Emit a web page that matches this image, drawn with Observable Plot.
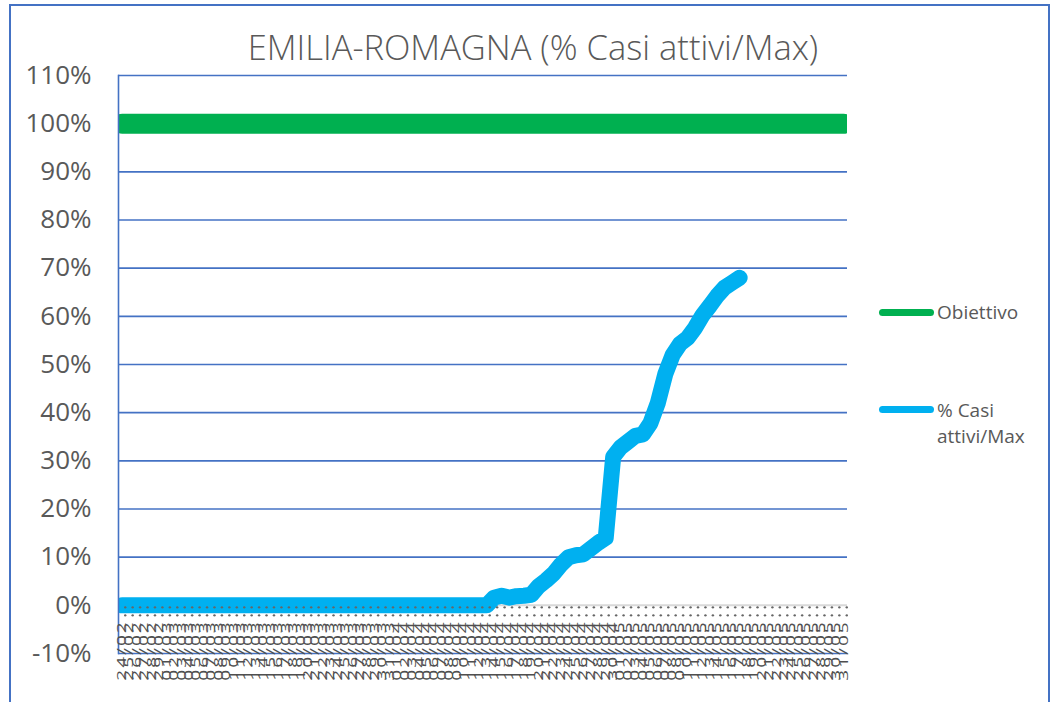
<!DOCTYPE html>
<html><head><meta charset="utf-8">
<script src="https://cdn.jsdelivr.net/npm/d3@7"></script>
<script src="https://cdn.jsdelivr.net/npm/@observablehq/plot@0.6"></script>
<style>
html,body{margin:0;padding:0;background:#fff;}
#wrap{position:relative;width:1055px;height:702px;overflow:hidden;font-family:"Open Sans",sans-serif;color:#595959;}
#border{position:absolute;left:9px;top:4px;width:1041px;height:740px;border:2px solid #4472C4;box-sizing:border-box;pointer-events:none;}
#title{position:absolute;left:0;top:23px;width:1066px;text-align:center;font-size:34.5px;font-weight:300;white-space:nowrap;}
#chart{position:absolute;left:0;top:0;}
.leg{position:absolute;font-size:19px;line-height:26px;}
.sw{position:absolute;width:55px;height:7px;border-radius:4px;}
</style>
</head><body>
<div id="wrap">
  <div id="chart"></div>
  <div id="title">EMILIA-ROMAGNA (% Casi attivi/Max)</div>
  <div class="sw" style="left:879px;top:309px;background:#00B050"></div>
  <div class="leg" style="left:937px;top:299px;">Obiettivo</div>
  <div class="sw" style="left:879px;top:406px;background:#00B0F0"></div>
  <div class="leg" style="left:937px;top:397px;">% Casi<br>attivi/Max</div>
  <div id="border"></div>
</div>
<script>
const dates = [
"24/02","25/02","26/02","27/02","28/02","29/02",
"01/03","02/03","03/03","04/03","05/03","06/03","07/03","08/03","09/03","10/03",
"11/03","12/03","13/03","14/03","15/03","16/03","17/03","18/03","19/03","20/03",
"21/03","22/03","23/03","24/03","25/03","26/03","27/03","28/03","29/03","30/03","31/03",
"01/04","02/04","03/04","04/04","05/04","06/04","07/04","08/04","09/04","10/04",
"11/04","12/04","13/04","14/04","15/04","16/04","17/04","18/04","19/04","20/04",
"21/04","22/04","23/04","24/04","25/04","26/04","27/04","28/04","29/04","30/04",
"01/05","02/05","03/05","04/05","05/05","06/05","07/05","08/05","09/05","10/05",
"11/05","12/05","13/05","14/05","15/05","16/05","17/05","18/05","19/05","20/05",
"21/05","22/05","23/05","24/05","25/05","26/05","27/05","28/05","29/05","30/05","31/05"
];
const obiettivo = [
100,100,100,100,100,100,100,100,100,100,100,100,100,100,100,100,100,100,100,100,
100,100,100,100,100,100,100,100,100,100,100,100,100,100,100,100,100,100,100,100,
100,100,100,100,100,100,100,100,100,100,100,100,100,100,100,100,100,100,100,100,
100,100,100,100,100,100,100,100,100,100,100,100,100,100,100,100,100,100,100,100,
100,100,100,100,100,100,100,100,100,100,100,100,100,100,100,100,100,100
];
const casiAttiviMax = [
0,0,0,0,0,0,0,0,0,0,
0,0,0,0,0,0,0,0,0,0,
0,0,0,0,0,0,0,0,0,0,
0,0,0,0,0,0,0,0,0,0,
0,0,0,0,0,0,0,0,0,0,
1.6,2.0,1.6,1.9,2.0,2.2,4.0,5.2,6.6,8.5,
10.0,10.4,10.6,11.8,13.0,14.0,30.8,32.8,34.0,35.2,
35.5,37.8,42.0,48.0,52.0,54.3,55.5,57.6,60.2,62.2,
64.3,66.0,67.0,68.0
];
const yTicks = [-10,0,10,20,30,40,50,60,70,80,90,100,110];

const obData = dates.map((d,i) => ({date: d, v: obiettivo[i]}));
const casiData = casiAttiviMax.map((v,i) => ({date: dates[i], v}));
const gridVals = yTicks.filter(t => t !== 0);

const plot = Plot.plot({
  width: 1055, height: 702,
  marginLeft: 118, marginRight: 208, marginTop: 75, marginBottom: 49,
  style: {color: "#595959", background: "transparent", fontFamily: "'Open Sans', sans-serif"},
  x: {type: "point", domain: dates, padding: 0.5, axis: null},
  y: {domain: [-10, 110], axis: null},
  marks: [
    Plot.ruleY(gridVals, {stroke: "#4472C4", strokeWidth: 1.6}),
    Plot.ruleY([0], {stroke: "#D9D9D9", strokeWidth: 2}),
    Plot.axisY({ticks: yTicks, tickFormat: d => d + "%", tickSize: 0, tickPadding: 27, fontSize: 26, label: null}),
    Plot.line(obData, {x: "date", y: "v", stroke: "#00B050", strokeWidth: 20, strokeLinecap: "round", strokeLinejoin: "round", clip: true}),
    Plot.line(casiData, {x: "date", y: "v", stroke: "#00B0F0", strokeWidth: 16, strokeLinecap: "round", strokeLinejoin: "round", clip: true}),
    Plot.dot(dates, {x: d => d, y: 0, dx: 3, dy: 2, r: 1.2, fill: "#666", stroke: null}),
    Plot.dot(dates, {x: d => d, y: 0, dx: 3, dy: 10, r: 1.2, fill: "#666", stroke: null}),
    Plot.frame({anchor: "left", stroke: "#4472C4", strokeWidth: 1.6}),
    Plot.text(dates, {x: d => d, y: 0, text: d => d, rotate: -90, textAnchor: "end", lineAnchor: "middle", dy: 15, fontSize: 19, fill: "#4f4f4f"})
  ]
});
document.getElementById("chart").appendChild(plot);
d3.select(plot).selectAll('g[aria-label="text"] text').each(function() {
  const t = d3.select(this);
  t.attr("transform", (t.attr("transform") || "") + " scale(1,0.62)");
  t.style("letter-spacing", "2px");
});
</script>
</body></html>
